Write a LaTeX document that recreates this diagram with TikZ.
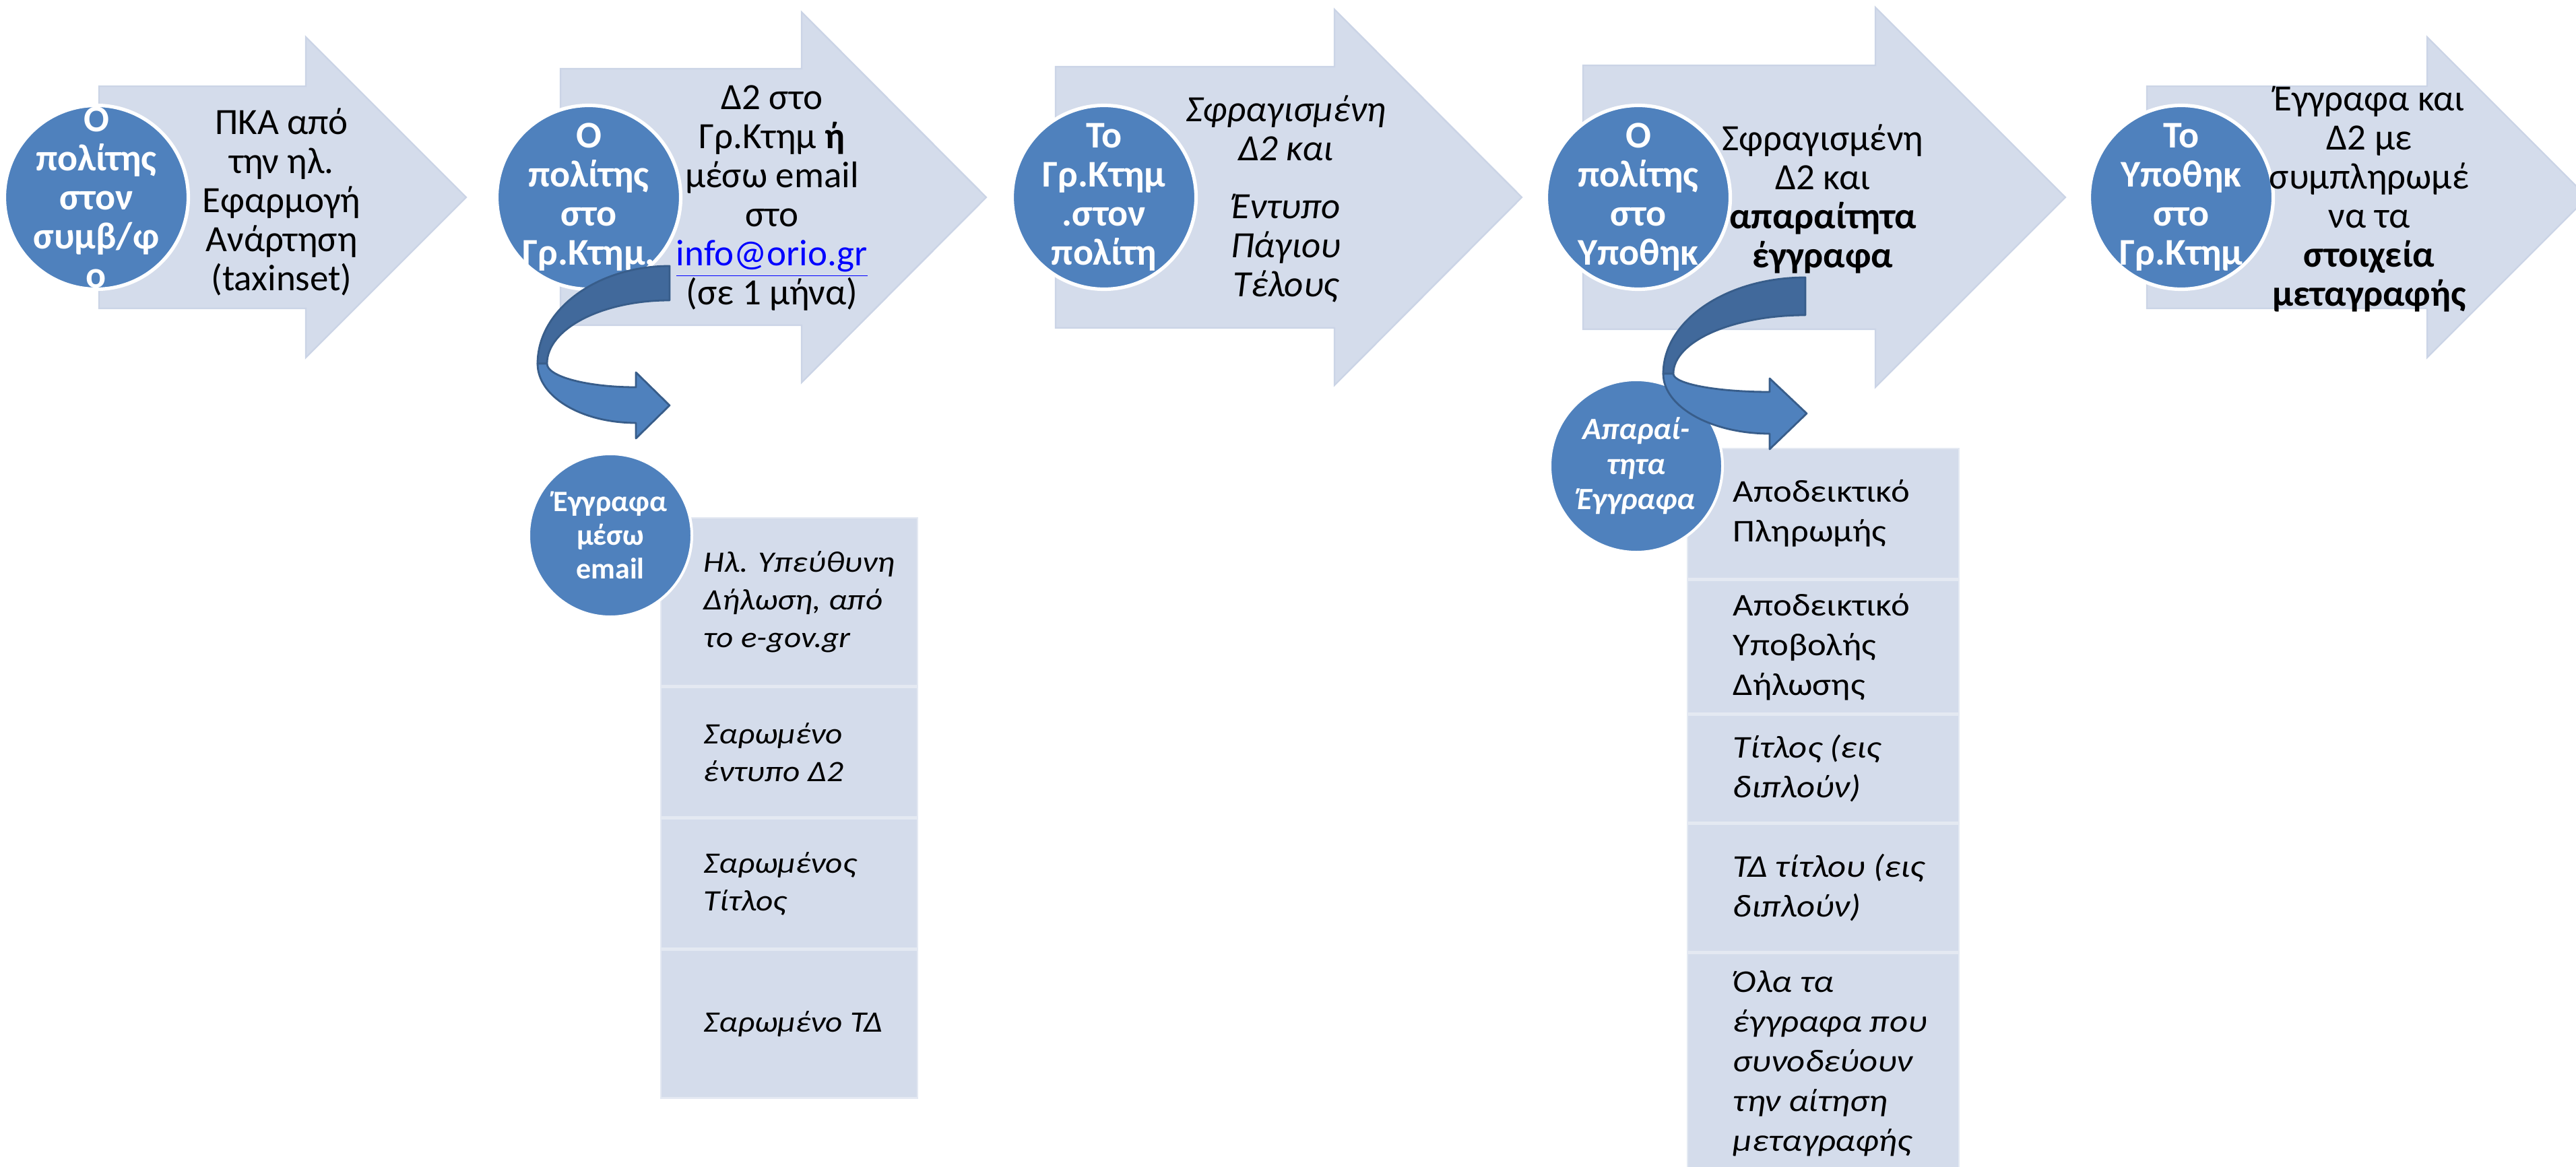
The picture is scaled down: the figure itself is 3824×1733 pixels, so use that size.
\documentclass[tikz,border=0pt]{standalone}
\usepackage{fontspec}
\setmainfont{Carlito}
\newfontfamily\docfont{Carlito}[FakeStretch=1.12]
\usetikzlibrary{positioning}
\definecolor{arrowfill}{RGB}{212,220,235}
\definecolor{arrowedge}{RGB}{203,212,230}
\definecolor{actorblue}{RGB}{79,129,189}
\definecolor{bandback}{RGB}{65,105,155}
\definecolor{bandedge}{RGB}{56,93,138}
\definecolor{rowedge}{RGB}{228,233,242}
\definecolor{linkblue}{RGB}{0,0,255}

\begin{document}
\begin{tikzpicture}[x=0.25pt,y=-0.25pt,node distance=0pt,
    step arrow/.style={fill=arrowfill,draw=arrowedge,line width=0.6pt},
    actor/.style={circle,fill=actorblue,draw=white,line width=1.3pt,minimum size=68.25pt,inner sep=0pt},
    actor text/.style={text=white,align=center,font=\fontsize{14}{14.5}\selectfont\bfseries},
    step text/.style={align=center,font=\fontsize{13.75}{14.5}\selectfont},
    sub actor/.style={circle,fill=actorblue,draw=white,line width=1pt,inner sep=0pt},
    doc row/.style={rectangle,fill=arrowfill,draw=rowedge,line width=0.6pt,inner sep=0pt,anchor=north west},
    doc text/.style={anchor=west,align=left,inner sep=0pt},
    band back/.style={fill=bandback,draw=bandedge,line width=0.7pt,line join=round},
    band front/.style={fill=actorblue,draw=bandedge,line width=0.7pt,line join=round}]
    \useasboundingbox (0,0) rectangle (3824,1733);
    \clip (0,0) rectangle (3824,1733);

    \draw[step arrow] (147,128) -- (454,128) -- (454,55) -- (692,293) -- (454,531) -- (454,458) -- (147,458) -- cycle;
    \draw[step arrow] (832,102) -- (1190,102) -- (1190,18) -- (1464,293) -- (1190,568) -- (1190,483) -- (832,483) -- cycle;
    \draw[step arrow] (1567,99) -- (1981,99) -- (1981,14) -- (2259,293) -- (1981,572) -- (1981,487) -- (1567,487) -- cycle;
    \draw[step arrow] (2350,97) -- (2784,97) -- (2784,11) -- (3066,293) -- (2784,575) -- (2784,489) -- (2350,489) -- cycle;
    \draw[step arrow] (3187,128) -- (3603,128) -- (3603,55) -- (3841,293) -- (3603,531) -- (3603,458) -- (3187,458) -- cycle;

    \node[actor] (c1) at (143,293) {};
    \node[actor] (c2) at (874,293) {};
    \node[actor] (c3) at (1639,293) {};
    \node[actor] (c4) at (2432,293) {};
    \node[actor] (c5) at (3238,293) {};

    \node[actor text] (c1t) at (c1) {Ο\\πολίτης\\στον\\συμβ/φ\\ο};
    \node[actor text] (c2t) at (c2) {Ο\\πολίτης\\στο\\Γρ.Κτημ.};
    \node[actor text] (c3t) at (c3) {Το\\Γρ.Κτημ\\.στον\\πολίτη};
    \node[actor text] (c4t) at (c4) {Ο\\πολίτης\\στο\\Υποθηκ};
    \node[actor text] (c5t) at (c5) {Το\\Υποθηκ\\στο\\Γρ.Κτημ};

    \node[step text] (s1) at (418,300) {ΠΚΑ από\\την ηλ.\\Εφαρμογή\\Ανάρτηση\\(taxinset)};
    \node[step text] (s2) at (1146,294) {Δ2 στο\\Γρ.Κτημ \textbf{ή}\\μέσω email\\στο\\{\color{linkblue}\underline{info@orio.gr}}\\(σε 1 μήνα)};
    \node[step text,font=\fontsize{13.75}{14.5}\selectfont\itshape] (s3) at (1909,295) {Σφραγισμένη\\Δ2 και\\[7pt]Έντυπο\\Πάγιου\\Τέλους};
    \node[step text] (s4) at (2706,295) {Σφραγισμένη\\Δ2 και\\\textbf{απαραίτητα}\\\textbf{έγγραφα}};
    \node[step text] (s5) at (3517,296) {Έγγραφα και\\Δ2 με\\συμπληρωμέ\\να τα\\\textbf{στοιχεία}\\\textbf{μεταγραφής}};

    \node[doc row,minimum width=95.25pt,minimum height=62.25pt] (m1) at (980,768) {};
    \node[doc row,minimum width=95.25pt,minimum height=48.25pt,below=of m1] (m2) {};
    \node[doc row,minimum width=95.25pt,minimum height=48pt,below=of m2] (m3) {};
    \node[doc row,minimum width=95.25pt,minimum height=55pt,below=of m3] (m4) {};

    \node[doc row,minimum width=100.75pt,minimum height=48.25pt] (d1) at (2504,665) {};
    \node[doc row,minimum width=100.75pt,minimum height=49.5pt,below=of d1] (d2) {};
    \node[doc row,minimum width=100.75pt,minimum height=39.75pt,below=of d2] (d3) {};
    \node[doc row,minimum width=100.75pt,minimum height=47.5pt,below=of d3] (d4) {};
    \node[doc row,minimum width=100.75pt,minimum height=81.5pt,below=of d4] (d5) {};

    \begin{scope}[every node/.append style={font=\docfont\fontsize{11}{14}\selectfont\itshape}]
    \node[doc text] (m1t) at ([xshift=16pt]m1.west) {Ηλ. Υπεύθυνη\\Δήλωση, από\\το e-gov.gr};
    \node[doc text] (m2t) at ([xshift=16pt]m2.west) {Σαρωμένο\\έντυπο Δ2};
    \node[doc text] (m3t) at ([xshift=16pt]m3.west) {Σαρωμένος\\Τίτλος};
    \node[doc text] (m4t) at ([xshift=16pt]m4.west) {Σαρωμένο ΤΔ};
    \end{scope}

    \begin{scope}[every node/.append style={font=\docfont\fontsize{11.75}{14.75}\selectfont}]
    \node[doc text] (d1t) at ([xshift=17pt]d1.west) {Αποδεικτικό\\Πληρωμής};
    \node[doc text] (d2t) at ([xshift=17pt]d2.west) {Αποδεικτικό\\Υποβολής\\Δήλωσης};
    \node[doc text,font=\docfont\fontsize{11.75}{14.75}\selectfont\itshape] (d3t) at ([xshift=17pt]d3.west) {Τίτλος (εις\\διπλούν)};
    \node[doc text,font=\docfont\fontsize{11.75}{14.75}\selectfont\itshape] (d4t) at ([xshift=17pt]d4.west) {ΤΔ τίτλου (εις\\διπλούν)};
    \node[doc text,font=\docfont\fontsize{11.75}{14.75}\selectfont\itshape] (d5t) at ([xshift=17pt]d5.west) {Όλα τα\\έγγραφα που\\συνοδεύουν\\την αίτηση\\μεταγραφής};
    \end{scope}

    \node[sub actor,minimum size=60.5pt] (em) at (906,795) {};
    \node[text=white,align=center,font=\fontsize{11}{12.5}\selectfont\bfseries] (emt) at (em) {Έγγραφα\\μέσω\\email};
    \node[sub actor,minimum size=64pt] (req) at (2429,692) {};
    \node[text=white,align=center,font=\fontsize{11.5}{13}\selectfont\bfseries\itshape] (reqt) at (req) {Απαραί-\\τητα\\Έγγραφα};

    \draw[band back] (994,395) .. controls (886,395) and (798,460) .. (798,540) -- (812,540) .. controls (812,488) and (894,446) .. (994,446) -- cycle;
    \draw[band front] (798,540) .. controls (798,589) and (863,628) .. (944,628) -- (944,651) -- (994,602) -- (944,553) -- (944,575) .. controls (871,575) and (812,559) .. (812,540) -- cycle;

    \draw[band back] (2680,412) .. controls (2563,412) and (2469,476) .. (2469,555) -- (2484,555) .. controls (2484,507) and (2572,468) .. (2680,468) -- cycle;
    \draw[band front] (2469,555) .. controls (2469,604) and (2540,644) .. (2627,644) -- (2627,667) -- (2682,614) -- (2627,562) -- (2627,582) .. controls (2548,582) and (2484,570) .. (2484,555) -- cycle;
\end{tikzpicture}
\end{document}
